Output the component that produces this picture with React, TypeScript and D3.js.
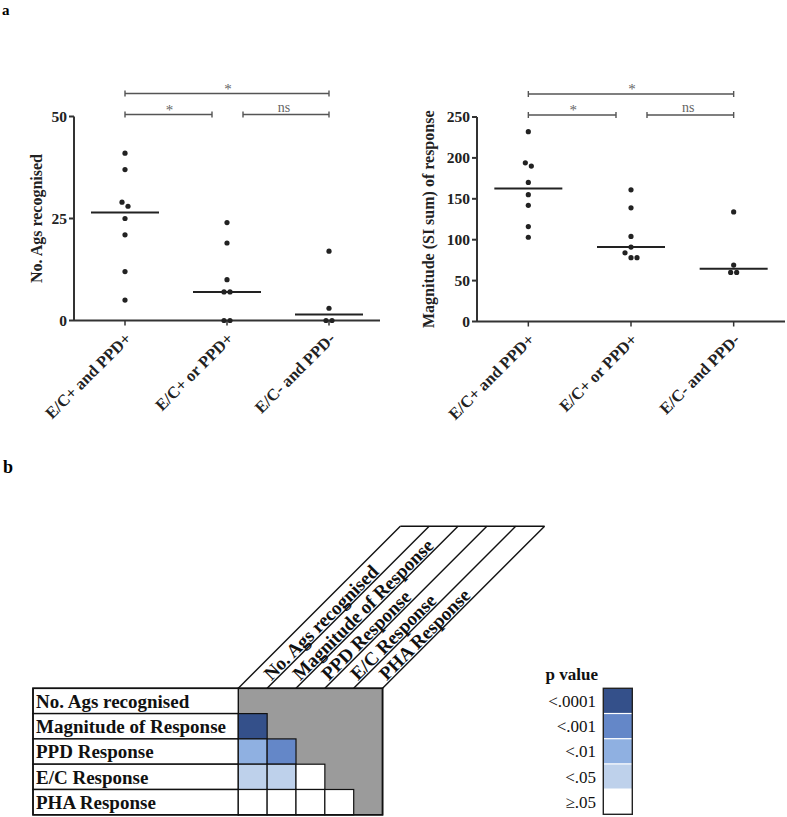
import React from "react";
import * as d3 from "d3";

const categories = ["E/C+ and PPD+", "E/C+ or PPD+", "E/C- and PPD-"];
const agsValues = [
  [41, 37, 29, 28, 25, 21, 12, 5],
  [24, 19, 10, 7, 7, 0, 0],
  [17, 3, 0, 0],
];
const magValues = [
  [232, 194, 190, 170, 155, 142, 116, 103],
  [161, 139, 104, 91, 84, 78, 78],
  [134, 69, 60, 60],
];
const agsTicks = [0, 25, 50];
const magTicks = [0, 50, 100, 150, 200, 250];
const sigFrom = [0, 0, 1];
const sigTo = [2, 1, 2];
const sigLabels = ["*", "*", "ns"];
const sigLevels = [0, 1, 1];

const measures = [
  "No. Ags recognised",
  "Magnitude of Response",
  "PPD Response",
  "E/C Response",
  "PHA Response",
];
const pLevels = ["<.0001", "<.001", "<.01", "<.05", "\u2265.05"];
const pColors = ["#34508a", "#6487c8", "#8fb0e1", "#bed1eb", "#ffffff"];
// lower triangle p-value level index per row (row i has i cells)
const matrixLevels = [[], [0], [2, 1], [3, 3, 4], [4, 4, 4, 4]];

const FONT = "'Liberation Serif', 'Times New Roman', serif";

type PlotProps = {
  axisX: number;
  axisEnd: number;
  yTop: number;
  yBottom: number;
  domainMax: number;
  ticks: number[];
  values: number[][];
  ylabel: string;
  labelX: number;
};

function layoutPoints(vals: number[], y: (v: number) => number) {
  const sorted = [...vals].sort((a, b) => b - a);
  const clusters: number[][] = [];
  sorted.forEach((v) => {
    const last = clusters[clusters.length - 1];
    if (last && Math.abs(y(last[last.length - 1]) - y(v)) < 5.4) last.push(v);
    else clusters.push([v]);
  });
  const out: { v: number; dx: number }[] = [];
  clusters.forEach((c) => {
    c.forEach((v, k) => out.push({ v, dx: (k - (c.length - 1) / 2) * 6 }));
  });
  return out;
}

function Plot(p: PlotProps) {
  const x = d3
    .scalePoint<string>()
    .domain(categories)
    .range([p.axisX, p.axisEnd])
    .padding(0.5);
  const y = d3.scaleLinear().domain([0, p.domainMax]).range([p.yBottom, p.yTop]);
  const sigY = [p.yTop - 23, p.yTop - 2];
  return (
    <g fontFamily={FONT}>
      {/* significance bars */}
      {sigLabels.map((lab, i) => {
        let xa = x(categories[sigFrom[i]])!;
        let xb = x(categories[sigTo[i]])!;
        if (sigLevels[i] === 1) {
          if (sigFrom[i] === 1) xa += 16;
          if (sigTo[i] === 1) xb -= 15;
        }
        const yy = sigY[sigLevels[i]];
        return (
          <g key={i}>
            <g stroke="#555" strokeWidth={1.4}>
              <line x1={xa} x2={xb} y1={yy} y2={yy} />
              <line x1={xa} x2={xa} y1={yy - 3} y2={yy + 3} />
              <line x1={xb} x2={xb} y1={yy - 3} y2={yy + 3} />
            </g>
            <text
              x={(xa + xb) / 2 + (lab === "*" ? 1 : -2)}
              y={yy - (lab === "*" ? 0 : 3)}
              fill="#666"
              fontSize={lab === "*" ? 15 : 14}
              textAnchor="middle"
            >
              {lab}
            </text>
          </g>
        );
      })}
      {/* axes */}
      <line x1={p.axisX} x2={p.axisX} y1={p.yTop} y2={p.yBottom} stroke="#333" strokeWidth={2} />
      <line x1={p.axisX} x2={p.axisEnd} y1={p.yBottom} y2={p.yBottom} stroke="#333" strokeWidth={2} />
      {p.ticks.map((t) => (
        <g key={t}>
          <line x1={p.axisX - 5} x2={p.axisX} y1={y(t)} y2={y(t)} stroke="#333" strokeWidth={2} />
          <text
            x={p.axisX - 7}
            y={y(t)}
            dy="0.35em"
            textAnchor="end"
            fontSize={15.5}
            fontWeight="bold"
            fill="#222"
          >
            {t}
          </text>
        </g>
      ))}
      {categories.map((c) => (
        <g key={c}>
          <line x1={x(c)} x2={x(c)} y1={p.yBottom} y2={p.yBottom + 5} stroke="#333" strokeWidth={1.5} />
          <text
            transform={`translate(${x(c)! + 3},${p.yBottom + 15}) rotate(-45)`}
            textAnchor="end"
            dy="0.35em"
            fontSize={16.5}
            fontWeight="bold"
            fill="#222"
          >
            {c}
          </text>
        </g>
      ))}
      <text
        transform={`translate(${p.labelX},${(p.yTop + p.yBottom) / 2}) rotate(-90)`}
        textAnchor="middle"
        fontSize={16}
        fontWeight="bold"
        fill="#222"
      >
        {p.ylabel}
      </text>
      {/* points and medians */}
      {p.values.map((vals, ci) => {
        const cx = x(categories[ci])!;
        const med = d3.median(vals)!;
        return (
          <g key={ci}>
            <line x1={cx - 34} x2={cx + 34} y1={y(med)} y2={y(med)} stroke="#222" strokeWidth={2} />
            {layoutPoints(vals, y).map((pt, k) => (
              <circle key={k} cx={cx + pt.dx} cy={y(pt.v)} r={2.6} fill="#222" />
            ))}
          </g>
        );
      })}
    </g>
  );
}

function Matrix() {
  const labelLeft = 33;
  const x0 = 238.3;
  const cw = 28.85;
  const y0 = 688.3;
  const rh = 25.3;
  const n = measures.length;
  const diag = 162;
  const s45 = Math.SQRT1_2;
  const col = d3.scaleLinear().domain([0, n]).range([x0, x0 + n * cw]);
  const row = d3.scaleLinear().domain([0, n]).range([y0, y0 + n * rh]);
  return (
    <g fontFamily={FONT}>
      {/* diagonal header */}
      {d3.range(n + 1).map((i) => (
        <line
          key={i}
          x1={col(i)}
          y1={y0}
          x2={col(i) + diag}
          y2={y0 - diag}
          stroke="#111"
          strokeWidth={1.4}
        />
      ))}
      <line x1={col(0) + diag} x2={col(n) + diag} y1={y0 - diag} y2={y0 - diag} stroke="#111" strokeWidth={1.4} />
      {measures.map((m, i) => {
        const bx = col(i + 1);
        const s = 8;
        const pp = 2;
        const tx = bx + s * s45 - pp * s45;
        const ty = y0 - s * s45 - pp * s45;
        return (
          <text
            key={m}
            transform={`translate(${tx},${ty}) rotate(-45)`}
            fontSize={19}
            fontWeight="bold"
            fill="#111"
          >
            {m}
          </text>
        );
      })}
      {/* gray area */}
      <rect x={x0} y={y0} width={n * cw} height={n * rh} fill="#9b9b9b" stroke="#111" strokeWidth={1.4} />
      {/* row labels */}
      {measures.map((m, i) => (
        <g key={m}>
          <rect
            x={labelLeft}
            y={row(i)}
            width={x0 - labelLeft}
            height={rh}
            fill="#fff"
            stroke="#111"
            strokeWidth={1.4}
          />
          <text x={labelLeft + 3} y={row(i) + rh / 2} dy="0.36em" fontSize={19} fontWeight="bold" fill="#111">
            {m}
          </text>
        </g>
      ))}
      {/* cells */}
      {matrixLevels.map((r, i) =>
        r.map((lv, j) => (
          <rect
            key={`${i}-${j}`}
            x={col(j)}
            y={row(i)}
            width={cw}
            height={rh}
            fill={pColors[lv]}
            stroke="#111"
            strokeWidth={1.2}
          />
        ))
      )}
      <rect
        x={labelLeft}
        y={y0}
        width={x0 + n * cw - labelLeft}
        height={n * rh}
        fill="none"
        stroke="#111"
        strokeWidth={1.6}
      />
    </g>
  );
}

function Legend() {
  const bx = 603.3;
  const bw = 29;
  const by = 688.3;
  const bh = 126;
  const sy = d3.scaleBand<string>().domain(pLevels).range([by, by + bh]);
  return (
    <g fontFamily={FONT}>
      <text x={598} y={680} textAnchor="end" fontSize={17} fontWeight="bold" fill="#111">
        p value
      </text>
      {pLevels.map((l, i) => (
        <g key={l}>
          <rect x={bx} y={sy(l)!} width={bw} height={sy.bandwidth()} fill={pColors[i]} />
          {i > 0 && (
            <line x1={bx} x2={bx + bw} y1={sy(l)!} y2={sy(l)!} stroke="#fff" strokeWidth={1.2} />
          )}
          <text
            x={596}
            y={sy(l)! + sy.bandwidth() / 2}
            dy="0.36em"
            textAnchor="end"
            fontSize={17}
            fill="#111"
          >
            {l}
          </text>
        </g>
      ))}
      <rect x={bx} y={by} width={bw} height={bh} fill="none" stroke="#222" strokeWidth={1.4} />
    </g>
  );
}

export default function App() {
  return (
    <svg
      width={787}
      height={817}
      style={{ position: "absolute", left: 0, top: 0, background: "#fff" }}
    >
      <rect width={787} height={817} fill="#fff" />
      <text x={2} y={14.5} fontFamily={FONT} fontSize={15} fontWeight="bold">
        a
      </text>
      <text x={3} y={473} fontFamily={FONT} fontSize={18} fontWeight="bold">
        b
      </text>
      <Plot
        axisX={74}
        axisEnd={380}
        yTop={116.5}
        yBottom={320.5}
        domainMax={50}
        ticks={agsTicks}
        values={agsValues}
        ylabel="No. Ags recognised"
        labelX={42}
      />
      <Plot
        axisX={477}
        axisEnd={785}
        yTop={117}
        yBottom={321.5}
        domainMax={250}
        ticks={magTicks}
        values={magValues}
        ylabel="Magnitude (SI sum) of response"
        labelX={434}
      />
      <Matrix />
      <Legend />
    </svg>
  );
}
